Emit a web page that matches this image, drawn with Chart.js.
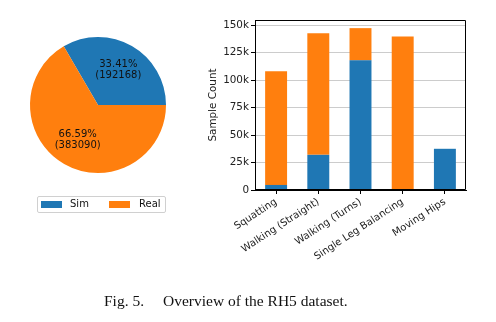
<!DOCTYPE html>
<html>
<head>
<meta charset="utf-8">
<script src="https://cdn.jsdelivr.net/npm/chart.js@4.4.1/dist/chart.umd.min.js"></script>
<style>
  html, body { margin: 0; padding: 0; background: #fff; }
  #wrap { position: relative; width: 496px; height: 322px; overflow: hidden; }
  canvas { position: absolute; left: 0; top: 0; }
  #legend { position: absolute; left: 37px; top: 196px; width: 127px; height: 15px;
    border: 1px solid #d0d0d0; border-radius: 2px; font-family: "DejaVu Sans", sans-serif;
    font-size: 10px; color: #111; }
  .patch { position: absolute; top: 4px; width: 21px; height: 7px; }
  .ltxt { position: absolute; top: 1px; line-height: 12px; }
  .cap { position: absolute; top: 293px; line-height: 15px; font-family: "Liberation Serif", "Times New Roman", serif;
    font-size: 15.5px; color: #111; white-space: nowrap; }
</style>
</head>
<body>
<div id="wrap">
  <canvas id="bar" width="496" height="322"></canvas>
  <canvas id="pie" width="496" height="322"></canvas>
  <div id="legend">
    <div class="patch" style="left:3px;background:#1f77b4"></div>
    <div class="ltxt" style="left:32px">Sim</div>
    <div class="patch" style="left:71px;background:#ff7f0e"></div>
    <div class="ltxt" style="left:101px">Real</div>
  </div>
  <div class="cap" style="left:104px">Fig. 5.</div>
  <div class="cap" style="left:163px">Overview of the RH5 dataset.</div>
</div>
<script>
const pieLabels = ['Sim', 'Real'];
const pieValues = [192168, 383090];
const categories = ['Squatting', 'Walking (Straight)', 'Walking (Turns)', 'Single Leg Balancing', 'Moving Hips'];
const simValues = [4600, 32000, 118000, 0, 37500];
const realValues = [103400, 110700, 29300, 139700, 0];
const yTickValues = [0, 25000, 50000, 75000, 100000, 125000, 150000];
const yTickLabels = ['0', '25k', '50k', '75k', '100k', '125k', '150k'];
const BLUE = '#1f77b4', ORANGE = '#ff7f0e';
const FONT = '"DejaVu Sans", sans-serif';

Chart.defaults.font.family = FONT;
Chart.defaults.font.size = 10;
Chart.defaults.color = '#222';

const total = pieValues.reduce((a, b) => a + b, 0);

const pieLabelPlugin = {
  id: 'pieLabels',
  afterDatasetsDraw(chart) {
    const ctx = chart.ctx;
    const meta = chart.getDatasetMeta(0);
    ctx.save();
    ctx.font = '10px ' + FONT;
    ctx.fillStyle = '#111';
    ctx.textAlign = 'center';
    ctx.textBaseline = 'middle';
    meta.data.forEach((arc, i) => {
      const p = arc.getProps(['x', 'y', 'startAngle', 'endAngle', 'outerRadius'], true);
      const mid = (p.startAngle + p.endAngle) / 2;
      const x = p.x + 0.6 * p.outerRadius * Math.cos(mid);
      const y = p.y + 0.6 * p.outerRadius * Math.sin(mid);
      const pct = (100 * pieValues[i] / total).toFixed(2) + '%';
      ctx.fillText(pct, x, y - 5.5);
      ctx.fillText('(' + pieValues[i] + ')', x, y + 5.5);
    });
    ctx.restore();
  }
};

new Chart(document.getElementById('pie'), {
  type: 'pie',
  data: { labels: pieLabels, datasets: [{ data: pieValues, backgroundColor: [BLUE, ORANGE], borderWidth: 0 }] },
  options: {
    responsive: false, animation: false,
    rotation: 90 - 360 * pieValues[0] / total,
    layout: { padding: { left: 30, right: 330, top: 37, bottom: 149 } },
    plugins: { legend: { display: false }, tooltip: { enabled: false } },
    events: []
  },
  plugins: [pieLabelPlugin]
});

const boxPlugin = {
  id: 'box',
  afterDatasetsDraw(chart) {
    const a = chart.chartArea, ctx = chart.ctx;
    ctx.save();
    ctx.strokeStyle = '#000';
    ctx.lineWidth = 1;
    ctx.beginPath();
    ctx.rect(Math.round(a.left) + 0.5, Math.round(a.top) + 0.5, Math.round(a.right - a.left) - 1, Math.round(a.bottom - a.top) - 1);
    ctx.stroke();
    ctx.restore();
  }
};

new Chart(document.getElementById('bar'), {
  type: 'bar',
  data: {
    labels: categories,
    datasets: [
      { label: 'Sim', data: simValues, backgroundColor: BLUE, borderWidth: 0, barPercentage: 0.52, categoryPercentage: 1 },
      { label: 'Real', data: realValues, backgroundColor: ORANGE, borderWidth: 0, barPercentage: 0.52, categoryPercentage: 1 }
    ]
  },
  options: {
    responsive: false, animation: false, events: [],
    layout: { padding: { left: 205, right: 30, top: 20, bottom: 0 } },
    plugins: { legend: { display: false }, tooltip: { enabled: false } },
    scales: {
      x: {
        stacked: true, offset: true,
        grid: { offset: false, drawOnChartArea: false, color: '#000', tickLength: 4 },
        border: { color: '#000', width: 1 },
        ticks: { minRotation: 33, maxRotation: 33, autoSkip: false, padding: 2, color: '#222', font: { size: 10 } },
        afterFit(s) { s.height = 132; }
      },
      y: {
        stacked: true, min: 0, max: 154700,
        afterBuildTicks(s) { s.ticks = yTickValues.map(v => ({ value: v })); },
        grid: { color: '#cccccc', tickColor: '#000', tickLength: 4 },
        border: { color: '#000', width: 1 },
        ticks: { padding: 2, color: '#222', font: { size: 10.4 },
          callback(v) { const i = yTickValues.indexOf(v); return i >= 0 ? yTickLabels[i] : ''; } },
        title: { display: true, text: 'Sample Count', color: '#222', font: { size: 10.4 }, padding: { top: 2, bottom: 2 } },
        afterFit(s) { s.width = 50; }
      }
    }
  },
  plugins: [boxPlugin]
});
</script>
</body>
</html>
